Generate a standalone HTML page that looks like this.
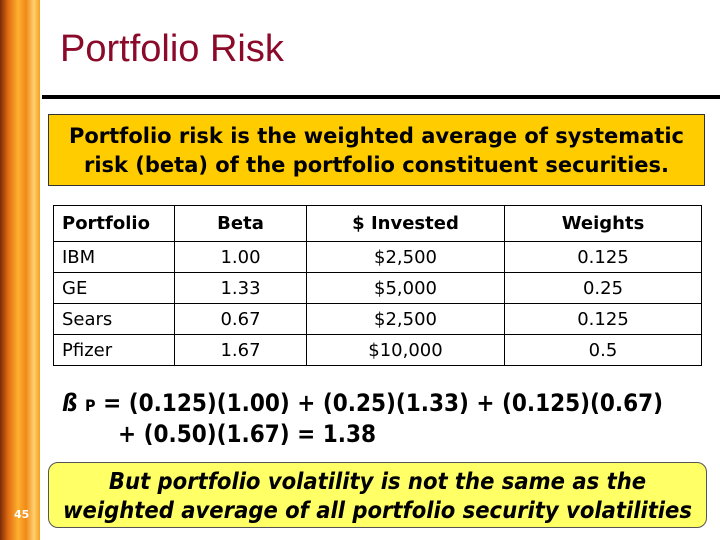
<!DOCTYPE html>
<html><head><meta charset="utf-8"><style>
body{margin:0;width:720px;height:540px;position:relative;background:#fff;overflow:hidden;font-family:"DejaVu Sans","Liberation Sans",sans-serif}
.abs{position:absolute}
#stripe{left:0;top:0;width:40px;height:540px;background:linear-gradient(90deg,#7a2a08 0%,#e06a10 20%,#ffb030 45%,#f08a18 65%,#ffd070 85%,#f5a020 100%)}
#title{left:60px;top:28px;font-family:"Liberation Sans",sans-serif;font-size:38px;color:#8b0a2a}
#rule{left:42px;top:95px;width:678px;height:4px;background:#000}
#box{left:48px;top:114px;width:657px;background:#ffcc00;border:1px solid #333;font-weight:bold;font-size:21px;text-align:center;line-height:29px;padding-top:7px;box-sizing:border-box;height:72px}
table{position:absolute;left:53px;top:205px;border-collapse:collapse;font-size:18px}
td{border:1px solid #000;padding:0 8px;height:30px;text-align:center}
td:first-child{text-align:left}
tr.h td{font-weight:bold;height:35px}
#formula{left:62px;top:389px;font-weight:bold;font-size:24px;line-height:29px;font-family:"DejaVu Sans Condensed","DejaVu Sans",sans-serif;white-space:nowrap}
#note{left:48px;top:462px;width:659px;height:66px;box-sizing:border-box;border:1px solid #555;border-radius:10px;background:#ffff66;font-weight:bold;font-style:italic;font-size:23.5px;text-align:center;line-height:29px;padding-top:4px;font-family:"DejaVu Sans Condensed","DejaVu Sans",sans-serif;white-space:nowrap}
#num{left:14px;top:508px;font-size:11px;font-weight:bold;color:#fff}
</style></head><body>
<div class="abs" id="stripe"></div>
<div class="abs" id="title">Portfolio Risk</div>
<div class="abs" id="rule"></div>
<div class="abs" id="box">Portfolio risk is the weighted average of systematic<br>risk (beta) of the portfolio constituent securities.</div>
<table>
<tr class="h"><td style="width:104px">Portfolio</td><td style="width:115px">Beta</td><td style="width:181px">$ Invested</td><td style="width:180px">Weights</td></tr>
<tr><td>IBM</td><td>1.00</td><td>$2,500</td><td>0.125</td></tr>
<tr><td>GE</td><td>1.33</td><td>$5,000</td><td>0.25</td></tr>
<tr><td>Sears</td><td>0.67</td><td>$2,500</td><td>0.125</td></tr>
<tr><td>Pfizer</td><td>1.67</td><td>$10,000</td><td>0.5</td></tr>
</table>
<div class="abs" id="formula"><i>ß</i> <span style="font-size:16px">P</span> = (0.125)(1.00) + (0.25)(1.33) + (0.125)(0.67)<br><span style="padding-left:56px">+ (0.50)(1.67) = 1.38</span></div>
<div class="abs" id="note">But portfolio volatility is not the same as the<br>weighted average of all portfolio security volatilities</div>
<div class="abs" id="num">45</div>
</body></html>
